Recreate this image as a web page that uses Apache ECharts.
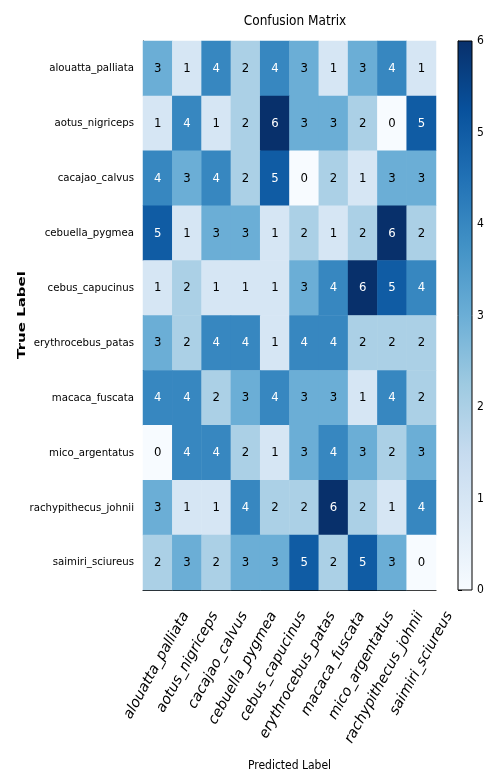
<!DOCTYPE html>
<html><head><meta charset="utf-8">
<script src="https://cdn.jsdelivr.net/npm/echarts@6/dist/echarts.min.js"></script>
<style>html,body{margin:0;padding:0;background:#fff}#c{width:492px;height:778px}</style>
</head><body><div id="c"></div>
<script>
const classes = ['alouatta_palliata','aotus_nigriceps','cacajao_calvus','cebuella_pygmea','cebus_capucinus','erythrocebus_patas','macaca_fuscata','mico_argentatus','rachypithecus_johnii','saimiri_sciureus'];
const row0 = [3,1,4,2,4,3,1,3,4,1];
const row1 = [1,4,1,2,6,3,3,2,0,5];
const row2 = [4,3,4,2,5,0,2,1,3,3];
const row3 = [5,1,3,3,1,2,1,2,6,2];
const row4 = [1,2,1,1,1,3,4,6,5,4];
const row5 = [3,2,4,4,1,4,4,2,2,2];
const row6 = [4,4,2,3,4,3,3,1,4,2];
const row7 = [0,4,4,2,1,3,4,3,2,3];
const row8 = [3,1,1,4,2,2,6,2,1,4];
const row9 = [2,3,2,3,3,5,2,5,3,0];
const colorbarTicks = [0,1,2,3,4,5,6];
const blues = ['#f7fbff','#deebf7','#c6dbef','#9ecae1','#6baed6','#4292c6','#2171b5','#08519c','#08306b'];
const COND = '"DejaVu Sans Condensed","Liberation Sans Narrow","DejaVu Sans",sans-serif';
const REG = '"DejaVu Sans",sans-serif';

const rows = [row0,row1,row2,row3,row4,row5,row6,row7,row8,row9];
const data = [];
rows.forEach((r, i) => r.forEach((v, j) => {
  data.push({value: [j, i, v], label: {color: v > 3 ? '#ffffff' : '#000000'}});
}));

const chart = echarts.init(document.getElementById('c'));
const G = {left: 143, top: 41, width: 293, height: 549};
chart.setOption({
  animation: false,
  textStyle: {fontFamily: COND},
  title: {text: 'Confusion Matrix', left: 290, top: 9, textAlign: 'center',
    textStyle: {fontFamily: COND, fontSize: 13.5, fontWeight: 'normal', color: '#000'}},
  grid: [
    Object.assign({outerBoundsMode: 'none', containLabel: false}, G),
    {outerBoundsMode: 'none', containLabel: false, left: 458, top: 41, width: 14, height: 549},
    {outerBoundsMode: 'none', containLabel: false, left: G.left + 28, top: G.top, width: G.width, height: G.height}
  ],
  xAxis: [
    {type: 'category', data: classes, gridIndex: 0,
      axisLine: {lineStyle: {color: '#000'}}, axisTick: {alignWithLabel: true, length: 5, lineStyle: {color: '#000'}},
      axisLabel: {show: false}, splitLine: {show: false},
      name: 'Predicted Label', nameLocation: 'middle', nameGap: 170, nameMoveOverlap: false,
      nameTextStyle: {fontFamily: COND, fontSize: 12, color: '#000'}},
    {type: 'value', gridIndex: 1, min: 0, max: 1, show: false},
    {type: 'category', data: classes, gridIndex: 2,
      axisLine: {show: false}, axisTick: {show: false}, splitLine: {show: false},
      axisLabel: {rotate: 61, color: '#000', fontSize: 14.4, fontStyle: 'italic', fontFamily: REG, margin: 23, interval: 0}}
  ],
  yAxis: [
    {type: 'category', data: classes, gridIndex: 0, inverse: true,
      axisLine: {lineStyle: {color: '#000'}}, axisTick: {alignWithLabel: true, length: 5, lineStyle: {color: '#000'}},
      axisLabel: {color: '#000', fontSize: 11.3, fontFamily: COND, margin: 9, interval: 0}},
    {type: 'value', gridIndex: 1, min: 0, max: 6, interval: 1, position: 'right',
      axisLine: {show: true, lineStyle: {color: '#000'}}, axisTick: {show: true, length: 4, lineStyle: {color: '#000'}},
      axisLabel: {color: '#000', fontSize: 12, fontFamily: COND, margin: 5,
        formatter: v => colorbarTicks.includes(v) ? String(v) : ''},
      splitLine: {show: false}},
    {type: 'category', data: classes, gridIndex: 2, show: false}
  ],
  visualMap: {show: false, min: 0, max: 6, seriesIndex: 0, inRange: {color: blues}},
  graphic: [{type: 'text', x: 22, y: 315, rotation: Math.PI / 2, scaleY: 0.75,
    style: {text: 'True Label', font: 'bold 15px ' + REG, fill: '#000', align: 'center', verticalAlign: 'middle'}}],
  series: [
    {type: 'heatmap', xAxisIndex: 0, yAxisIndex: 0, data: data,
      label: {show: true, fontSize: 13, fontFamily: COND},
      itemStyle: {borderWidth: 0}},
    {type: 'custom', xAxisIndex: 1, yAxisIndex: 1, data: [[0, 0]],
      renderItem: function (params, api) {
        const p0 = api.coord([0, 0]);
        const p1 = api.coord([1, 6]);
        const stops = blues.map((c, i) => ({offset: 1 - i / (blues.length - 1), color: c}));
        return {type: 'rect', shape: {x: p0[0], y: p1[1], width: p1[0] - p0[0], height: p0[1] - p1[1]},
          style: {fill: new echarts.graphic.LinearGradient(0, 0, 0, 1, stops), stroke: '#000', lineWidth: 1}};
      }}
  ]
});
</script></body></html>
